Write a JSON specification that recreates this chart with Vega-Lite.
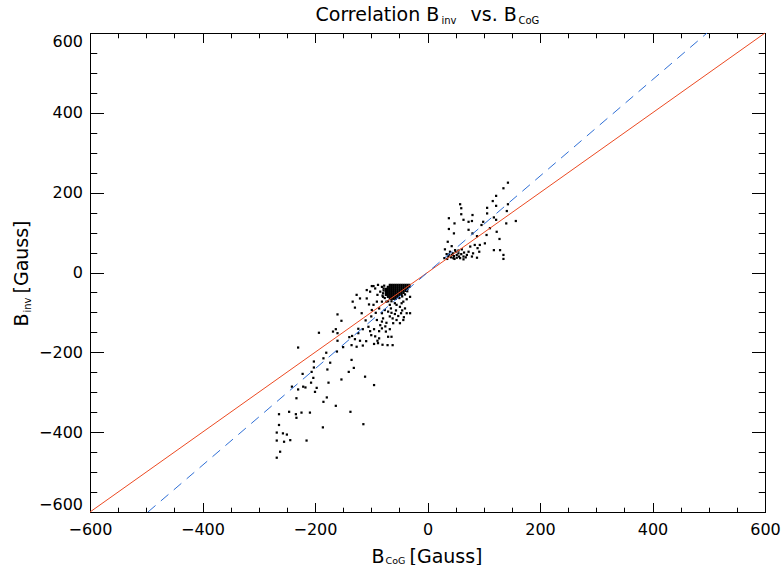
{
  "$schema": "https://vega.github.io/schema/vega-lite/v6.json",
  "width": 675,
  "height": 479,
  "autosize": {"type": "none"},
  "padding": {"left": 90, "top": 33, "right": 17, "bottom": 53},
  "background": "white",
  "datasets": {
    "pts": [
      {"x":-268,"y":-464},{"x":-262,"y":-449},{"x":-268,"y":-421},{"x":-255,"y":-424},{"x":-244,"y":-420},{"x":-215,"y":-421},{"x":-268,"y":-401},{"x":-257,"y":-403},{"x":-250,"y":-406},{"x":-264,"y":-382},{"x":-186,"y":-388},{"x":-114,"y":-380},{"x":-264,"y":-355},{"x":-246,"y":-349},{"x":-234,"y":-355},{"x":-233,"y":-364},{"x":-224,"y":-351},{"x":-209,"y":-351},{"x":-137,"y":-349},{"x":-163,"y":-334},{"x":-185,"y":-324},{"x":-179,"y":-313},{"x":-233,"y":-315},{"x":-230,"y":-293},{"x":-221,"y":-286},{"x":-217,"y":-288},{"x":-241,"y":-286},{"x":-207,"y":-276},{"x":-197,"y":-289},{"x":-200,"y":-299},{"x":-176,"y":-276},{"x":-222,"y":-254},{"x":-203,"y":-264},{"x":-202,"y":-238},{"x":-206,"y":-249},{"x":-202,"y":-223},{"x":-173,"y":-226},{"x":-178,"y":-243},{"x":-153,"y":-268},{"x":-140,"y":-249},{"x":-131,"y":-239},{"x":-111,"y":-261},{"x":-95,"y":-282},{"x":-135,"y":-219},{"x":-185,"y":-215},{"x":-180,"y":-201},{"x":-230,"y":-188},{"x":-161,"y":-198},{"x":-150,"y":-187},{"x":-135,"y":-182},{"x":-126,"y":-186},{"x":-115,"y":-183},{"x":-95,"y":-179},{"x":-88,"y":-177},{"x":-80,"y":-181},{"x":-71,"y":-182},{"x":-62,"y":-182},{"x":-64,"y":-161},{"x":-70,"y":-161},{"x":-86,"y":-165},{"x":-89,"y":-171},{"x":-109,"y":-172},{"x":-120,"y":-171},{"x":-129,"y":-167},{"x":-139,"y":-162},{"x":-160,"y":-171},{"x":-193,"y":-151},{"x":-168,"y":-148},{"x":-163,"y":-142},{"x":-160,"y":-152},{"x":-134,"y":-159},{"x":-123,"y":-152},{"x":-123,"y":-141},{"x":-115,"y":-142},{"x":-105,"y":-136},{"x":-102,"y":-147},{"x":-95,"y":-142},{"x":-86,"y":-147},{"x":-81,"y":-140},{"x":-74,"y":-148},{"x":-67,"y":-142},{"x":-153,"y":-121},{"x":-160,"y":-105},{"x":-117,"y":-102},{"x":-129,"y":-88},{"x":-133,"y":-73},{"x":-126,"y":-56},{"x":-120,"y":-65},{"x":-108,"y":-44},{"x":-108,"y":-65},{"x":-102,"y":-48},{"x":-99,"y":-34},{"x":-93,"y":-40},{"x":-89,"y":-56},{"x":-90,"y":-73},{"x":-96,"y":-81},{"x":-99,"y":-94},{"x":-92,"y":-101},{"x":-86,"y":-90},{"x":-81,"y":-102},{"x":-79,"y":-115},{"x":-73,"y":-126},{"x":-81,"y":-123},{"x":-90,"y":-119},{"x":-76,"y":-94},{"x":-70,"y":-98},{"x":-64,"y":-101},{"x":-58,"y":-104},{"x":-52,"y":-109},{"x":-47,"y":-102},{"x":-42,"y":-112},{"x":-37,"y":-102},{"x":-31,"y":-102},{"x":-55,"y":-119},{"x":-61,"y":-127},{"x":-49,"y":-127},{"x":-43,"y":-119},{"x":-58,"y":-77},{"x":-49,"y":-86},{"x":-40,"y":-90},{"x":-43,"y":-73},{"x":-37,"y":-67},{"x":-31,"y":-61},{"x":-73,"y":-73},{"x":-67,"y":-81},{"x":-81,"y":-73},{"x":-79,"y":-61},{"x":-84,"y":-48},{"x":-96,"y":-34},{"x":-88,"y":-31},{"x":-81,"y":-36},{"x":-73,"y":-44},
      {"x":-55,"y":-81},{"x":-46,"y":-77},{"x":-67,"y":-110},{"x":-84,"y":-132},{"x":-100,"y":-157},{"x":-93,"y":-160},{"x":-75,"y":-135},{"x":-62,"y":-115},{"x":-56,"y":-95},{"x":-45,"y":-95},{"x":-65,"y":-90},{"x":-110,"y":-120},{"x":-100,"y":-110},{"x":-104,"y":-80},
      {"x":-78,"y":-40},{"x":-79,"y":-52},{"x":-77,"y":-33},{"x":-78,"y":-45},{"x":-80,"y":-58},{"x":-76,"y":-64},{"x":-70,"y":-72},{"x":-64,"y":-72},{"x":-40,"y":-55},{"x":-36,"y":-47},{"x":-50,"y":-64},{"x":-45,"y":-60},
      {"x":-67,"y":-31},{"x":-63.5,"y":-31},{"x":-60,"y":-31},{"x":-56.5,"y":-31},{"x":-53,"y":-31},{"x":-49.5,"y":-31},{"x":-46,"y":-31},{"x":-42.5,"y":-31},{"x":-39,"y":-31},{"x":-35.5,"y":-31},{"x":-32,"y":-31},
      {"x":-70.5,"y":-36},{"x":-67,"y":-36},{"x":-63.5,"y":-36},{"x":-60,"y":-36},{"x":-56.5,"y":-36},{"x":-53,"y":-36},{"x":-49.5,"y":-36},{"x":-46,"y":-36},{"x":-42.5,"y":-36},{"x":-39,"y":-36},{"x":-35.5,"y":-36},{"x":-32,"y":-36},
      {"x":-74,"y":-41},{"x":-70.5,"y":-41},{"x":-67,"y":-41},{"x":-63.5,"y":-41},{"x":-60,"y":-41},{"x":-56.5,"y":-41},{"x":-53,"y":-41},{"x":-49.5,"y":-41},{"x":-46,"y":-41},{"x":-42.5,"y":-41},{"x":-39,"y":-41},{"x":-35.5,"y":-41},
      {"x":-74,"y":-46},{"x":-70.5,"y":-46},{"x":-67,"y":-46},{"x":-63.5,"y":-46},{"x":-60,"y":-46},{"x":-56.5,"y":-46},{"x":-53,"y":-46},{"x":-49.5,"y":-46},{"x":-46,"y":-46},{"x":-42.5,"y":-46},{"x":-39,"y":-46},
      {"x":-74,"y":-51},{"x":-70.5,"y":-51},{"x":-67,"y":-51},{"x":-63.5,"y":-51},{"x":-60,"y":-51},{"x":-56.5,"y":-51},{"x":-53,"y":-51},{"x":-49.5,"y":-51},{"x":-46,"y":-51},{"x":-42.5,"y":-51},
      {"x":-74,"y":-56},{"x":-70.5,"y":-56},{"x":-67,"y":-56},{"x":-63.5,"y":-56},{"x":-60,"y":-56},{"x":-56.5,"y":-56},{"x":-53,"y":-56},{"x":-49.5,"y":-56},{"x":-46,"y":-56},
      {"x":-70.5,"y":-61},{"x":-67,"y":-61},{"x":-63.5,"y":-61},{"x":-60,"y":-61},{"x":-56.5,"y":-61},{"x":-53,"y":-61},
      {"x":-67,"y":-66},{"x":-63.5,"y":-66},{"x":-60,"y":-66},{"x":-56.5,"y":-66},
      {"x":143,"y":225},{"x":135,"y":211},{"x":157,"y":129},{"x":122,"y":192},{"x":116,"y":179},{"x":122,"y":167},{"x":143,"y":171},{"x":141,"y":154},{"x":106,"y":162},{"x":106,"y":148},{"x":118,"y":138},{"x":122,"y":132},{"x":140,"y":123},{"x":123,"y":102},{"x":128,"y":84},{"x":111,"y":111},{"x":105,"y":94},{"x":102,"y":73},{"x":118,"y":56},{"x":129,"y":56},{"x":135,"y":44},{"x":135,"y":34},{"x":58,"y":171},{"x":60,"y":161},{"x":60,"y":146},{"x":64,"y":132},{"x":38,"y":136},{"x":48,"y":123},{"x":38,"y":109},{"x":47,"y":98},{"x":73,"y":127},{"x":79,"y":129},{"x":80,"y":144},{"x":73,"y":107},{"x":80,"y":98},{"x":88,"y":91},{"x":96,"y":119},{"x":99,"y":127},{"x":36,"y":77},{"x":43,"y":66},{"x":31,"y":58},{"x":34,"y":46},{"x":40,"y":52},{"x":49,"y":56},{"x":55,"y":48},{"x":61,"y":58},{"x":64,"y":40},{"x":70,"y":44},{"x":73,"y":52},{"x":79,"y":40},{"x":81,"y":48},{"x":88,"y":37},{"x":89,"y":61},{"x":93,"y":69},{"x":92,"y":52},{"x":84,"y":69},{"x":76,"y":65},{"x":46,"y":36},{"x":52,"y":37},{"x":58,"y":36},{"x":64,"y":33},{"x":37,"y":40},{"x":30,"y":36},{"x":43,"y":44},{"x":42,"y":38},{"x":47,"y":41},{"x":52,"y":44},{"x":56,"y":40},{"x":60,"y":46},{"x":45,"y":48},{"x":50,"y":52},{"x":38,"y":45},{"x":55,"y":55},{"x":65,"y":50},{"x":68,"y":38},{"x":35,"y":34},{"x":48,"y":34}
    ],
    "red": [{"x": -600, "y": -600}, {"x": 600, "y": 600}],
    "blue": [{"x": -497, "y": -600}, {"x": 497, "y": 600}]
  },
  "layer": [
    {
      "data": {"name": "pts"},
      "mark": {"type": "square", "size": 5, "color": "#000", "opacity": 1, "strokeWidth": 0},
      "encoding": {
        "x": {"field": "x", "type": "quantitative", "scale": {"domain": [-600, 600], "nice": false, "zero": false},
          "axis": {"orient": "bottom", "values": [-600,-400,-200,0,200,400,600], "tickSize": -9.5, "labels": false, "domain": true,
            "title": "B", "titleX": 281, "titleY": 50, "titleAlign": "left", "titleBaseline": "alphabetic", "titleAngle": 0, "titleFontSize": 19}},
        "y": {"field": "y", "type": "quantitative", "scale": {"domain": [-600, 600], "nice": false, "zero": false},
          "axis": {"orient": "left", "values": [-600,-400,-200,0,200,400,600], "tickSize": -13.5, "labels": false, "domain": true,
            "title": "B", "titleX": -63, "titleY": 293, "titleAlign": "left", "titleBaseline": "alphabetic", "titleAngle": 270, "titleFontSize": 19}}
      }
    },
    {
      "data": {"name": "red"},
      "mark": {"type": "line", "color": "#ec4a22", "strokeWidth": 1},
      "encoding": {
        "x": {"field": "x", "type": "quantitative", "scale": {"domain": [-600, 600], "nice": false, "zero": false},
          "axis": {"orient": "bottom", "values": [-600,-550,-500,-450,-400,-350,-300,-250,-200,-150,-100,-50,0,50,100,150,200,250,300,350,400,450,500,550,600], "tickSize": -4.8, "labels": false, "domain": false,
            "title": "CoG", "titleX": 295, "titleY": 51, "titleAlign": "left", "titleBaseline": "alphabetic", "titleAngle": 0, "titleFontSize": 9.5}},
        "y": {"field": "y", "type": "quantitative", "scale": {"domain": [-600, 600], "nice": false, "zero": false},
          "axis": {"orient": "left", "values": [-600,-550,-500,-450,-400,-350,-300,-250,-200,-150,-100,-50,0,50,100,150,200,250,300,350,400,450,500,550,600], "tickSize": -6.75, "labels": false, "domain": false,
            "title": "inv", "titleX": -60, "titleY": 279, "titleAlign": "left", "titleBaseline": "alphabetic", "titleAngle": 270, "titleFontSize": 10}}
      }
    },
    {
      "data": {"name": "blue"},
      "mark": {"type": "line", "color": "#2f6fd6", "strokeWidth": 1, "strokeDash": [10, 7]},
      "encoding": {
        "x": {"field": "x", "type": "quantitative", "scale": {"domain": [-600, 600], "nice": false, "zero": false},
          "axis": {"orient": "bottom", "values": [-600,-400,-200,0,200,400,600], "ticks": false, "labels": true, "domain": false, "labelPadding": 9, "labelFlush": false, "labelOverlap": false,
            "title": "[Gauss]", "titleX": 319, "titleY": 50, "titleAlign": "left", "titleBaseline": "alphabetic", "titleAngle": 0, "titleFontSize": 19}},
        "y": {"field": "y", "type": "quantitative", "scale": {"domain": [-600, 600], "nice": false, "zero": false},
          "axis": {"orient": "left", "values": [-600,-400,-200,0,200,400,600], "ticks": false, "labels": true, "domain": false, "labelPadding": 7.5, "labelFlush": true, "labelOverlap": false,
            "title": "[Gauss]", "titleX": -63, "titleY": 260, "titleAlign": "left", "titleBaseline": "alphabetic", "titleAngle": 270, "titleFontSize": 19}}
      }
    },
    {
      "data": {"name": "red"},
      "mark": {"type": "line", "strokeOpacity": 0},
      "encoding": {
        "x": {"field": "x", "type": "quantitative", "scale": {"domain": [-600, 600], "nice": false, "zero": false},
          "axis": {"orient": "top", "values": [-600,-400,-200,0,200,400,600], "tickSize": -9.5, "labels": false, "domain": true,
            "title": "Correlation B", "titleX": 225, "titleY": -13, "titleAlign": "left", "titleBaseline": "alphabetic", "titleAngle": 0, "titleFontSize": 19}},
        "y": {"field": "y", "type": "quantitative", "scale": {"domain": [-600, 600], "nice": false, "zero": false},
          "axis": {"orient": "right", "values": [-600,-400,-200,0,200,400,600], "tickSize": -13.5, "labels": false, "domain": true, "title": null}}
      }
    },
    {
      "data": {"name": "red"},
      "mark": {"type": "line", "strokeOpacity": 0},
      "encoding": {
        "x": {"field": "x", "type": "quantitative", "scale": {"domain": [-600, 600], "nice": false, "zero": false},
          "axis": {"orient": "top", "values": [-600,-550,-500,-450,-400,-350,-300,-250,-200,-150,-100,-50,0,50,100,150,200,250,300,350,400,450,500,550,600], "tickSize": -4.8, "labels": false, "domain": false,
            "title": "inv", "titleX": 351, "titleY": -10, "titleAlign": "left", "titleBaseline": "alphabetic", "titleAngle": 0, "titleFontSize": 10}},
        "y": {"field": "y", "type": "quantitative", "scale": {"domain": [-600, 600], "nice": false, "zero": false},
          "axis": {"orient": "right", "values": [-600,-550,-500,-450,-400,-350,-300,-250,-200,-150,-100,-50,0,50,100,150,200,250,300,350,400,450,500,550,600], "tickSize": -6.75, "labels": false, "domain": false, "title": null}}
      }
    },
    {
      "data": {"name": "red"},
      "mark": {"type": "line", "strokeOpacity": 0},
      "encoding": {
        "x": {"field": "x", "type": "quantitative", "scale": {"domain": [-600, 600], "nice": false, "zero": false},
          "axis": {"orient": "top", "ticks": false, "labels": false, "domain": false,
            "title": "vs.\u00a0B", "titleX": 380, "titleY": -13, "titleAlign": "left", "titleBaseline": "alphabetic", "titleAngle": 0, "titleFontSize": 19}},
        "y": {"field": "y", "type": "quantitative", "scale": {"domain": [-600, 600], "nice": false, "zero": false},
          "axis": {"orient": "right", "ticks": false, "labels": false, "domain": false, "title": null}}
      }
    },
    {
      "data": {"name": "red"},
      "mark": {"type": "line", "strokeOpacity": 0},
      "encoding": {
        "x": {"field": "x", "type": "quantitative", "scale": {"domain": [-600, 600], "nice": false, "zero": false},
          "axis": {"orient": "top", "ticks": false, "labels": false, "domain": false,
            "title": "CoG", "titleX": 428, "titleY": -10, "titleAlign": "left", "titleBaseline": "alphabetic", "titleAngle": 0, "titleFontSize": 10}},
        "y": {"field": "y", "type": "quantitative", "scale": {"domain": [-600, 600], "nice": false, "zero": false},
          "axis": {"orient": "right", "ticks": false, "labels": false, "domain": false, "title": null}}
      }
    }
  ],
  "resolve": {"axis": {"x": "independent", "y": "independent"}},
  "config": {
    "view": {"stroke": null},
    "axis": {
      "grid": false,
      "tickColor": "#000",
      "tickWidth": 1,
      "domainColor": "#000",
      "domainWidth": 1,
      "labelColor": "#000",
      "titleColor": "#000",
      "labelFont": "DejaVu Sans",
      "titleFont": "DejaVu Sans",
      "labelFontSize": 16,
      "labelFontWeight": "normal",
      "titleFontWeight": "normal"
    }
  }
}
